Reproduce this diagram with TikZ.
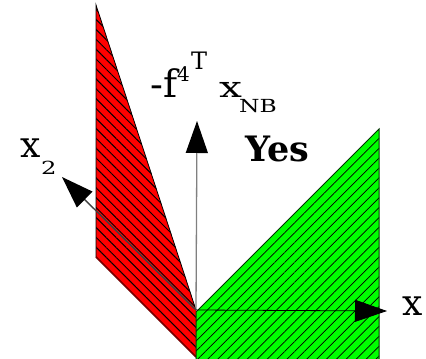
\documentclass[tikz,border=0pt]{standalone}
\usepackage{fontspec}
\setmainfont{DejaVu Serif}
\usetikzlibrary{arrows.meta,patterns.meta}
\definecolor{redfill}{HTML}{FF0000}
\definecolor{greenfill}{HTML}{00FF00}
\definecolor{darkred}{HTML}{7A0000}
\definecolor{axisgray}{HTML}{808080}
\tikzset{
  bigtip/.style={-{Triangle[length=32pt,width=22pt,color=black]}},
  lbl/.style={inner sep=0pt,anchor=base west,font=\fontsize{36}{40}\selectfont},
  sublbl/.style={inner sep=0pt,anchor=base west,font=\fontsize{18}{22}\selectfont},
  suplbl/.style={inner sep=0pt,anchor=base west,font=\fontsize{24}{28}\selectfont},
}
\begin{document}
\begin{tikzpicture}[x=1pt,y=1pt]
\useasboundingbox (0,0) rectangle (426,359);
% coordinates
\coordinate (O) at (196,49);
\coordinate (xtip) at (387,48);
\coordinate (ytip) at (197,238);
\coordinate (x2tip) at (62,182);
% red region
\fill[redfill] (96,354) -- (196,49) -- (196,2) -- (96,102) -- cycle;
\fill[pattern={Lines[angle=-45,distance=7pt,line width=1pt]},pattern color=black]
  (96,354) -- (196,49) -- (196,2) -- (96,102) -- cycle;
\draw[black,line width=0.8pt] (96,102) -- (96,354) -- (196,49);
\draw[darkred,line width=1.6pt] (96,102) -- (196,2);
% green region
\fill[greenfill] (196,47) -- (379,230) -- (379,0) -- (196,0) -- cycle;
\fill[pattern={Lines[angle=45,distance=7pt,line width=0.7pt]},pattern color=black]
  (196,47) -- (379,230) -- (379,0) -- (196,0) -- cycle;
\draw[black!80!green,line width=1pt] (196,0) -- (196,47) -- (379,230) -- (379,0);
% axes
\draw[axisgray,line width=1.3pt,bigtip] (O) -- (ytip);
\draw[black,line width=0.8pt,bigtip] (O) -- (xtip);
\draw[black!75,line width=1.4pt,bigtip] (O) -- (x2tip);
% labels
\node[lbl] (xl) at (402,43) {x};
\node[lbl] (x2l) at (20,201) {x};
\node[sublbl] (x2s) at (41,184) {\scalebox{1.35}[1]{2}};
\node[lbl,font=\fontsize{38}{42}\selectfont] (fl) at (150,261) {-f};
\node[suplbl,font=\fontsize{20}{24}\selectfont] (f4) at (177,277) {4};
\node[suplbl] (fT) at (191,289) {T};
\node[lbl,font=\fontsize{29}{34}\selectfont] (xnb) at (219,261) {\scalebox{1.4}[1]{x}};
\node[sublbl] (nb) at (239,246) {\scalebox{1.3}[1]{NB}};
\node[lbl,font=\fontsize{35}{40}\selectfont\bfseries] (yes) at (245,197) {Yes};
\end{tikzpicture}
\end{document}
